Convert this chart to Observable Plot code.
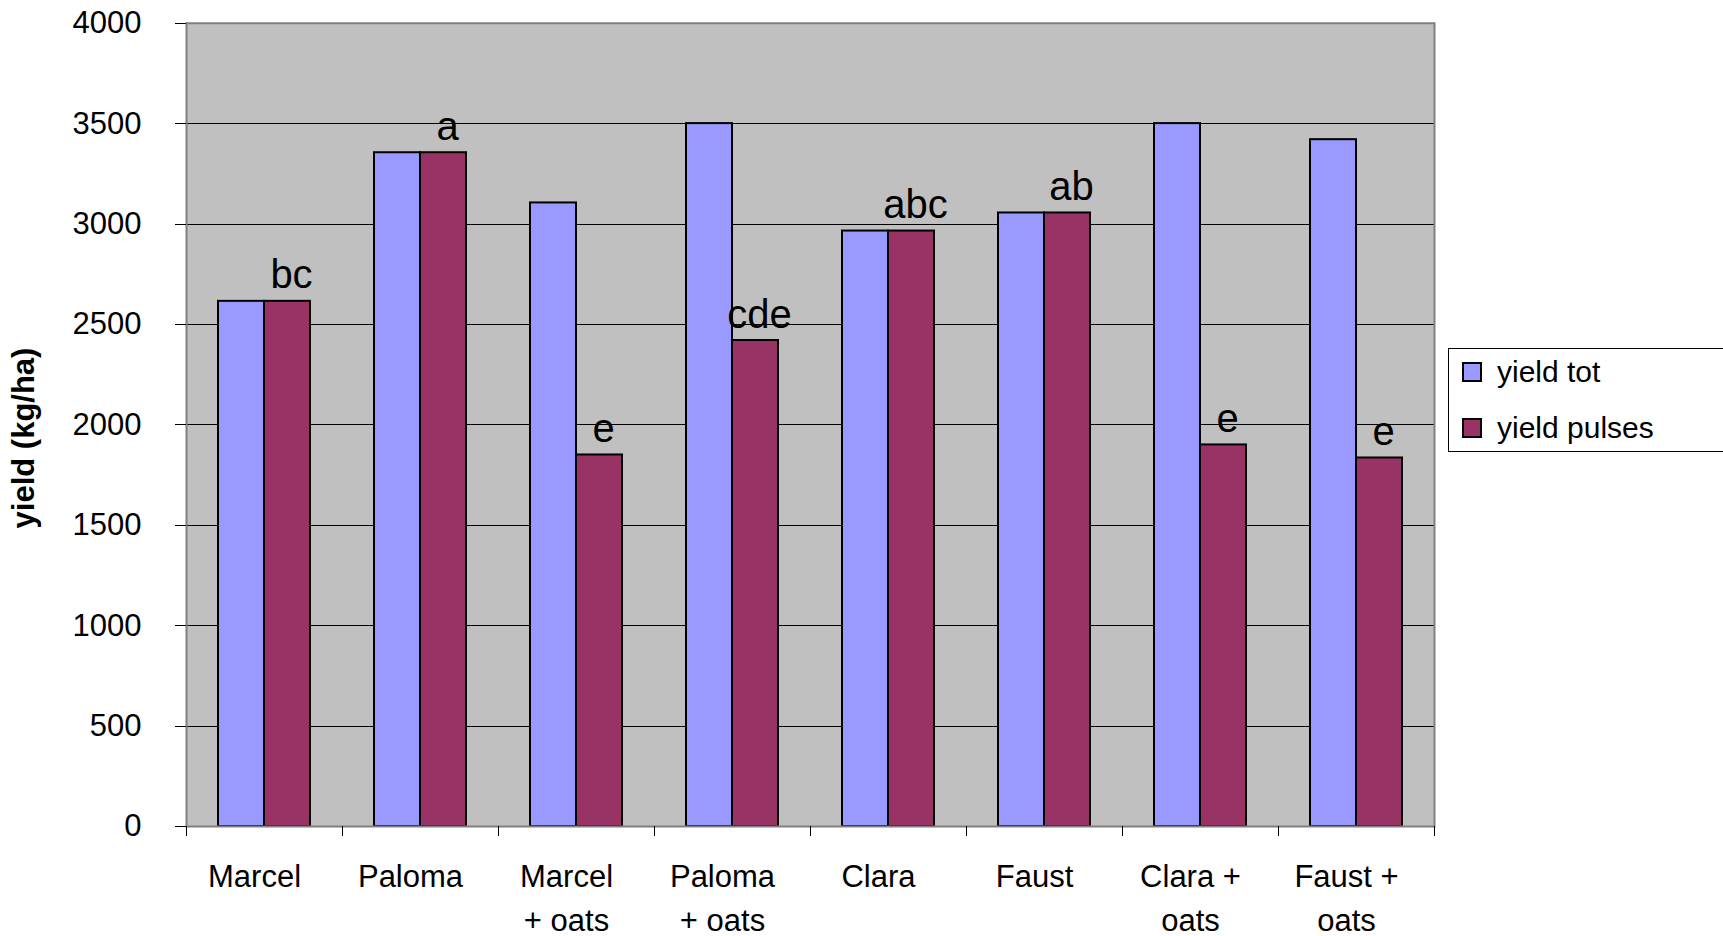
<!DOCTYPE html>
<html>
<head>
<meta charset="utf-8">
<script src="https://cdn.jsdelivr.net/npm/d3@7"></script>
<script src="https://cdn.jsdelivr.net/npm/@observablehq/plot@0.6"></script>
<style>
  html, body { margin: 0; padding: 0; background: #fff; overflow: hidden; }
  #chart { position: relative; width: 1723px; height: 936px; font-family: "Liberation Sans", Arial, sans-serif; color: #000; }
  #ytitle { position: absolute; left: 24px; top: 438px; transform: translate(-50%, -50%) rotate(-90deg);
            font-weight: bold; font-size: 31px; white-space: nowrap; }
  #legend { position: absolute; left: 1448px; top: 348px; width: 320px; height: 104px;
            border: 1px solid #000; box-sizing: border-box; background: #fff; }
  #legend .row { position: absolute; left: 13px; height: 40px; display: flex; align-items: center; font-size: 30px; white-space: nowrap; }
  #legend .sw { width: 16px; height: 16px; border: 2px solid #000; margin-right: 15px; }
</style>
</head>
<body>
<div id="chart">
  <div id="ytitle">yield (kg/ha)</div>
  <div id="legend"></div>
</div>
<script>
// Treatments (pure stands and mixtures with oats)
const categories = ["Marcel", "Paloma", "Marcel + oats", "Paloma + oats", "Clara", "Faust", "Clara + oats", "Faust + oats"];
const tickLabels = ["Marcel", "Paloma", "Marcel\n+ oats", "Paloma\n+ oats", "Clara", "Faust", "Clara +\noats", "Faust +\noats"];

// Series
const series = ["yield tot", "yield pulses"];
const seriesColors = ["#9999ff", "#993366"];

// Yields in kg/ha
const yieldTot    = [2615, 3355, 3105, 3500, 2965, 3055, 3500, 3420];
const yieldPulses = [2615, 3355, 1850, 2420, 2965, 3055, 1900, 1835];

// Significance letters for the pulse yield
const letters = ["bc", "a", "e", "cde", "abc", "ab", "e", "e"];

// Y axis ticks
const yTicks = [0, 500, 1000, 1500, 2000, 2500, 3000, 3500, 4000];
const innerGrid = yTicks.filter(v => v > 0 && v < 4000);

const rows = categories.flatMap((cat, i) => [
  {cat, series: series[0], value: yieldTot[i]},
  {cat, series: series[1], value: yieldPulses[i], letter: letters[i]}
]);
const pulseRows = rows.filter(d => d.series === series[1]);

// Short tick marks under the category axis at the edges of every group
function groupBoundaryTicks(index, scales, values, dims) {
  const y0 = dims.height - dims.marginBottom;
  const g = d3.create("svg:g").attr("stroke", "#000").attr("stroke-width", 1).attr("shape-rendering", "crispEdges");
  for (const x of [dims.marginLeft, dims.width - dims.marginRight]) {
    g.append("line").attr("x1", x).attr("x2", x).attr("y1", y0).attr("y2", y0 + 10);
  }
  return g.node();
}

const chart = Plot.plot({
  width: 1723,
  height: 936,
  marginLeft: 184,
  marginRight: 288,
  marginTop: 22.7,
  marginBottom: 110,
  style: {fontFamily: "'Liberation Sans', Arial, sans-serif", fontSize: "31px", background: "transparent", color: "#000"},
  fx: {domain: categories, padding: 0, label: null},
  x: {domain: series, paddingInner: 0, paddingOuter: 0.68, axis: null},
  y: {domain: [0, 4000], label: null},
  color: {domain: series, range: seriesColors},
  marks: [
    Plot.frame({fill: "#c0c0c0", shapeRendering: "crispEdges"}),
    Plot.ruleY(innerGrid, {stroke: "#000", strokeWidth: 1, shapeRendering: "crispEdges"}),
    Plot.ruleY([4000], {stroke: "#808080", strokeWidth: 2}),
    Plot.barY(rows, {fx: "cat", x: "series", y: "value", fill: "series", stroke: "#000", strokeWidth: 2}),
    Plot.ruleY([0], {stroke: "#808080", strokeWidth: 2}),
    Plot.frame({anchor: "left", facetAnchor: "left", stroke: "#808080", strokeWidth: 2}),
    Plot.frame({anchor: "right", facetAnchor: "right", stroke: "#808080", strokeWidth: 2}),
    Plot.axisY({ticks: yTicks, tickSize: 11, tickPadding: 34, fontSize: 31, label: null,
                tickFormat: d => String(d), shapeRendering: "crispEdges"}),
    groupBoundaryTicks,
    Plot.axisFx({
      anchor: "bottom", label: null, tickSize: 0, tickPadding: 29, fontSize: 31, lineHeight: 1.42, dx: -10,
      tickFormat: d => tickLabels[categories.indexOf(d)]
    }),
    Plot.text(pulseRows, {fx: "cat", x: "series", y: "value", text: "letter", fontSize: 40, lineAnchor: "bottom", dy: -13, dx: 4, fill: "#000"})
  ]
});
document.getElementById("chart").prepend(chart);

// Legend
const legend = d3.select("#legend");
series.forEach((s, i) => {
  const row = legend.append("div").attr("class", "row").style("top", `${2.5 + 56 * i}px`);
  row.append("div").attr("class", "sw").style("background", seriesColors[i]);
  row.append("span").text(s);
});
</script>
</body>
</html>
